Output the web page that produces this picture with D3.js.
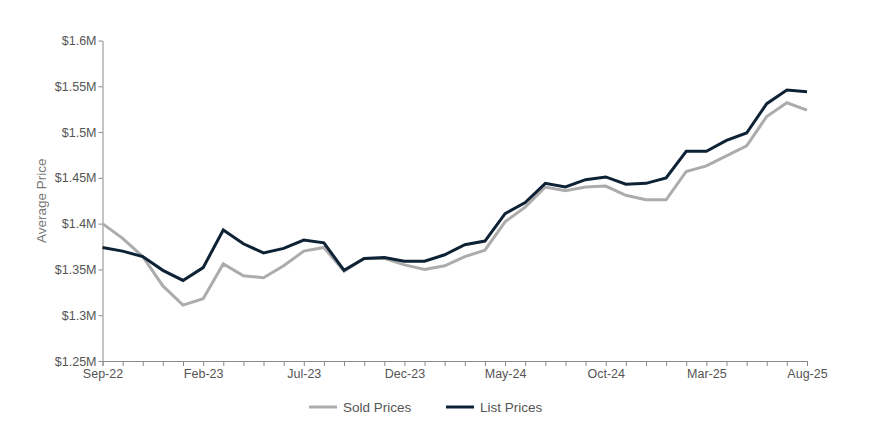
<!DOCTYPE html>
<html><head><meta charset="utf-8">
<script src="https://cdn.jsdelivr.net/npm/d3@7"></script>
<style>body{margin:0;background:#fff;}svg{display:block;font-family:"Liberation Sans",Arial,sans-serif;}</style>
</head><body><svg id="c" width="880" height="444"></svg>
<script>
const months = ["Sep-22","Oct-22","Nov-22","Dec-22","Jan-23","Feb-23","Mar-23","Apr-23","May-23","Jun-23","Jul-23","Aug-23","Sep-23","Oct-23","Nov-23","Dec-23","Jan-24","Feb-24","Mar-24","Apr-24","May-24","Jun-24","Jul-24","Aug-24","Sep-24","Oct-24","Nov-24","Dec-24","Jan-25","Feb-25","Mar-25","Apr-25","May-25","Jun-25","Jul-25","Aug-25"];
const soldPrices = [1.400,1.384,1.364,1.332,1.311,1.318,1.356,1.343,1.341,1.354,1.370,1.374,1.348,1.362,1.362,1.355,1.350,1.354,1.364,1.371,1.402,1.418,1.440,1.436,1.440,1.441,1.431,1.426,1.426,1.457,1.463,1.474,1.485,1.517,1.532,1.524];
const listPrices = [1.374,1.370,1.364,1.349,1.338,1.352,1.393,1.378,1.368,1.373,1.382,1.379,1.349,1.362,1.363,1.359,1.359,1.366,1.377,1.381,1.411,1.423,1.444,1.440,1.448,1.451,1.443,1.444,1.450,1.479,1.479,1.491,1.499,1.531,1.546,1.544];
const xTickLabels = ["Sep-22","Feb-23","Jul-23","Dec-23","May-24","Oct-24","Mar-25","Aug-25"];
const yTicks = [1.25,1.3,1.35,1.4,1.45,1.5,1.55,1.6];
const seriesNames = ["Sold Prices","List Prices"];
const colors = ["#acacac","#0e2236"];

const svg = d3.select("#c");
const L=102.5, R=807, T=40.5, B=361;
const x = d3.scalePoint().domain(months).range([L,R]);
const y = d3.scaleLinear().domain([1.25,1.6]).range([B,T]);

const gx = svg.append("g").attr("transform",`translate(0,${B})`)
  .call(d3.axisBottom(x).tickSizeOuter(0).tickSize(5).tickFormat(d => xTickLabels.includes(d)?d:""));
gx.select(".domain").attr("stroke","#8a8a8a");
gx.selectAll(".tick line").attr("stroke","#8a8a8a");
gx.selectAll(".tick text").attr("fill","#555").style("font-size","12.5px").attr("dy","0.9em").attr("y",6);

const gy = svg.append("g").attr("transform",`translate(${L},0)`)
  .call(d3.axisLeft(y).tickValues(yTicks).tickSize(4).tickSizeOuter(0).tickFormat(d=>"$"+(+d.toFixed(2))+"M"));
gy.select(".domain").attr("stroke","#8a8a8a");
gy.selectAll(".tick line").attr("stroke","#8a8a8a");
gy.selectAll(".tick text").attr("fill","#555").style("font-size","12.5px").attr("x",-6);

svg.append("text").attr("transform",`translate(46,${(T+B)/2}) rotate(-90)`)
  .attr("text-anchor","middle").attr("fill","#777").style("font-size","13.5px").text("Average Price");

const line = d3.line().x((d,i)=>x(months[i])).y(d=>y(d));
[soldPrices,listPrices].forEach((s,k)=>{
  svg.append("path").datum(s).attr("d",line).attr("fill","none")
    .attr("stroke",colors[k]).attr("stroke-width",3).attr("stroke-linejoin","miter");
});

const leg = [{x:309,t:343},{x:446,t:480}];
seriesNames.forEach((n,k)=>{
  svg.append("line").attr("x1",leg[k].x).attr("x2",leg[k].x+28).attr("y1",407).attr("y2",407)
    .attr("stroke",colors[k]).attr("stroke-width",3);
  svg.append("text").attr("x",leg[k].t).attr("y",412).attr("fill","#555").style("font-size","13.5px").text(n);
});
</script></body></html>
